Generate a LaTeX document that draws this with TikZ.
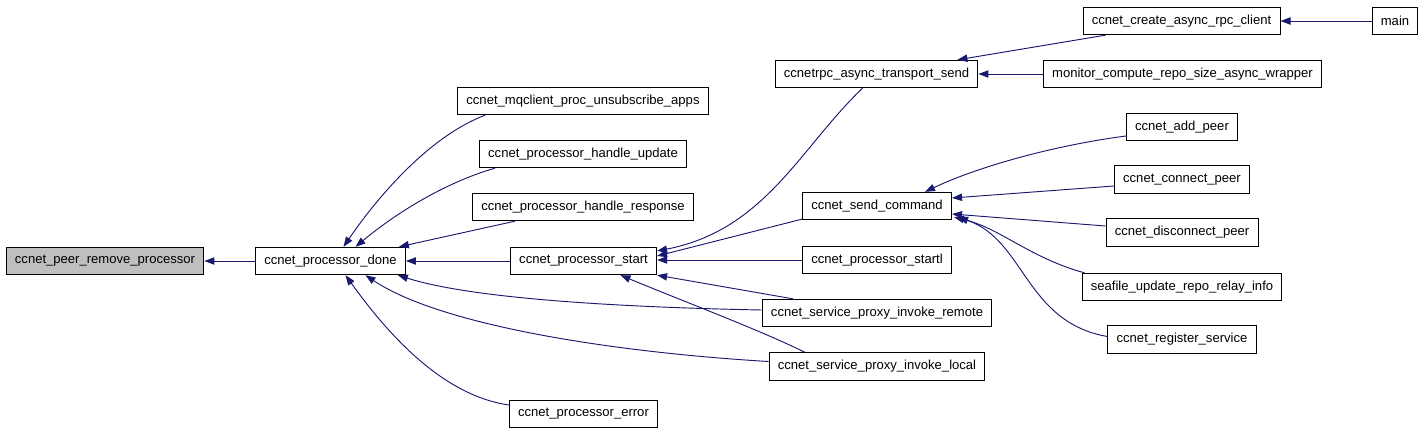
\documentclass[tikz,border=0pt]{standalone}
\usepackage{fontspec}
\setmainfont{Liberation Sans}
\usetikzlibrary{arrows.meta, positioning, calc}
\definecolor{CallNavy}{RGB}{25, 25, 112}
\definecolor{FocusGray}{RGB}{191, 191, 191}

\tikzset{
    fnbox/.style={draw=black, line width=0.75pt, fill=white, inner xsep=6.6pt, inner ysep=0pt,
        minimum height=20.5pt, font=\fontsize{9.8}{11}\selectfont},
    focusbox/.style={fnbox, fill=FocusGray},
    callarrow/.style={draw=CallNavy, line width=0.7pt, -{Triangle[length=7.5pt, width=5.5pt]}}
}

\begin{document}
\begin{tikzpicture}[x=0.75pt, y=-0.75pt]
    \useasboundingbox (0,0) rectangle (1427,436);

    % column 0 and 1
    \node[focusbox] (remove) at (105,261) {ccnet\_peer\_remove\_processor};
    \node[fnbox] (done) at (330.5,261) {ccnet\_processor\_done};

    % column 2
    \node[fnbox] (unsub) at (583,101) {ccnet\_mqclient\_proc\_unsubscribe\_apps};
    \node[fnbox] (hupdate) at (583,154) {ccnet\_processor\_handle\_update};
    \node[fnbox] (hresponse) at (583,207) {ccnet\_processor\_handle\_response};
    \node[fnbox] (start) at (583.5,261) {ccnet\_processor\_start};
    \node[fnbox] (error) at (583.5,414) {ccnet\_processor\_error};

    % column 3
    \node[fnbox] (transport) at (876.5,74) {ccnetrpc\_async\_transport\_send};
    \node[fnbox] (sendcmd) at (877,206) {ccnet\_send\_command};
    \node[fnbox] (startl) at (877,260) {ccnet\_processor\_startl};
    \node[fnbox] (remote) at (877,313) {ccnet\_service\_proxy\_invoke\_remote};
    \node[fnbox] (local) at (877,366.5) {ccnet\_service\_proxy\_invoke\_local};

    % column 4 and 5
    \node[fnbox] (asyncclient) at (1181.5,21) {ccnet\_create\_async\_rpc\_client};
    \node[fnbox] (mainfn) at (1395,21) {main};
    \node[fnbox] (monitor) at (1182.5,74) {monitor\_compute\_repo\_size\_async\_wrapper};
    \node[fnbox] (addpeer) at (1182,127) {ccnet\_add\_peer};
    \node[fnbox] (connpeer) at (1182,179.5) {ccnet\_connect\_peer};
    \node[fnbox] (disconnpeer) at (1182,232.5) {ccnet\_disconnect\_peer};
    \node[fnbox] (relayinfo) at (1182,287) {seafile\_update\_repo\_relay\_info};
    \node[fnbox] (regservice) at (1182,339.5) {ccnet\_register\_service};

    % callers of ccnet_processor_done
    \draw[callarrow] (done.west) -- (remove.east);
    \draw[callarrow] ($(unsub.south west)+(28,0)$) .. controls (425,138) and (372,205) .. ($(done.north)+(13,0)$);
    \draw[callarrow] ($(hupdate.south west)+(16,0)$) .. controls (440,184) and (390,218) .. ($(done.north)+(25,0)$);
    \draw[callarrow] ($(hresponse.south west)+(43,0)$) -- ($(done.north east)+(-7,0)$);
    \draw[callarrow] (start.west) -- (done.east);
    \draw[callarrow] ($(remote.west)+(0,-3)$) .. controls (610,307) and (470,298) .. ($(done.south east)+(-8,0)$);
    \draw[callarrow] ($(local.west)+(0,-5)$) .. controls (610,352) and (440,325) .. ($(done.south)+(35,0)$);
    \draw[callarrow] ($(error.west)+(0,-9)$) .. controls (440,395) and (385,330) .. ($(done.south)+(15,0)$);

    % callers of ccnet_processor_start
    \draw[callarrow] ($(transport.south)+(-14,0)$) .. controls (800,148) and (765,230) .. ($(start.east)+(0,-10)$);
    \draw[callarrow] ($(sendcmd.south west)+(0,-1)$) -- ($(start.east)+(0,-5)$);
    \draw[callarrow] (startl.west) -- ($(start.east)+(0,-1)$);
    \draw[callarrow] ($(remote.north)+(-84,0)$) -- (start.south east);
    \draw[callarrow] ($(local.north)+(-72,0)$) .. controls (760,330) and (680,300) .. ($(start.south)+(37,0)$);

    % upper right
    \draw[callarrow] (mainfn.west) -- (asyncclient.east);
    \draw[callarrow] ($(asyncclient.south west)+(23,0)$) -- ($(transport.north east)+(-21,0)$);
    \draw[callarrow] (monitor.west) -- (transport.east);

    % callers of ccnet_send_command
    \draw[callarrow] ($(addpeer.west)+(0,9)$) .. controls (1050,146) and (975,168) .. ($(sendcmd.north)+(48,0)$);
    \draw[callarrow] ($(connpeer.west)+(0,6.5)$) -- ($(sendcmd.east)+(0,-8)$);
    \draw[callarrow] ($(disconnpeer.west)+(0,-6.5)$) -- ($(sendcmd.east)+(0,8)$);
    \draw[callarrow] ($(relayinfo.north west)+(3,0)$) .. controls (1030,258) and (1000,228) .. ($(sendcmd.south east)+(2,-3)$);
    \draw[callarrow] ($(regservice.west)+(0,-3)$) .. controls (1025,322) and (1025,240) .. ($(sendcmd.south east)+(6,-3)$);
\end{tikzpicture}
\end{document}
